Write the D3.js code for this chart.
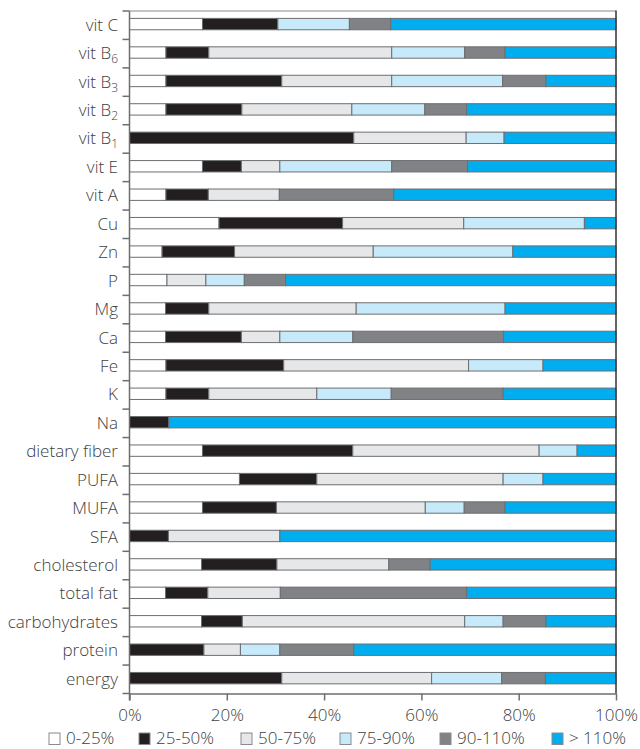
<!DOCTYPE html>
<html><head><meta charset="utf-8">
<script src="https://cdn.jsdelivr.net/npm/d3@7"></script>
<style>
html,body{margin:0;padding:0;background:#fff;}
svg{display:block;font-family:"Open Sans",sans-serif;font-weight:300;}
</style></head>
<body><svg id="chart" width="640" height="749"></svg>
<script>
const categories = ["vit C","vit B_6","vit B_3","vit B_2","vit B_1","vit E","vit A","Cu","Zn","P","Mg","Ca","Fe","K","Na","dietary fiber","PUFA","MUFA","SFA","cholesterol","total fat","carbohydrates","protein","energy"];
const seriesNames = ["0-25%","25-50%","50-75%","75-90%","90-110%","> 110%"];
const s0_25   = [15.0, 7.5, 7.5, 7.5, 0,   15.0, 7.5, 18.4, 6.7, 7.7, 7.4, 7.4, 7.5, 7.5, 0,   15.0, 22.6, 15.0, 0,   14.8, 7.4, 14.8, 0,    0];
const s25_50  = [15.5, 8.8, 23.8,15.6, 46.1, 8.0, 8.7, 25.4, 14.9,0,   8.9, 15.6,24.2, 8.8, 8.1, 30.9, 15.9, 15.2, 8.0, 15.5, 8.7, 8.4,  15.3, 31.3];
const s50_75  = [0,   37.6, 22.6,22.6, 23.1, 7.9, 14.6,24.9, 28.5,8.0, 30.3,7.9, 38.0,22.2, 0,   38.3, 38.3, 30.6, 22.9,23.0, 14.9,45.7, 7.5,  30.8];
const s75_90  = [14.7,15.0, 22.8,15.0, 7.8,  23.0,0,   24.8, 28.7,7.9, 30.6,15.0,15.3,15.3, 0,   7.8,  8.2,  8.0,  0,   0,    0,   7.9,  8.1,  14.4];
const s90_110 = [8.5, 8.3,  8.9, 8.6,  0,    15.6,23.5,0,    0,   8.5, 0,   31.0,0,   23.0, 0,   0,    0,    8.4,  0,   8.5,  38.3,8.8,  15.2, 9.0];
const s110    = [46.3,22.8, 14.4,30.7, 23.0, 30.5,45.7,6.5,  21.2,67.9,22.8,23.1,15.0,23.2, 91.9,8.0,  15.0, 22.8, 69.1,38.2, 30.7,14.4, 53.9, 14.5];
const tickValues = [0,20,40,60,80,100];
const colors = ["#ffffff","#231f20","#e6e7e8","#c7eafb","#808285","#00aeef"];

const allSeries = [s0_25,s25_50,s50_75,s75_90,s90_110,s110];
const rows = categories.map((c,i)=>{const o={cat:c}; seriesNames.forEach((s,j)=>o[s]=allSeries[j][i]); return o;});
const stacked = d3.stack().keys(seriesNames)(rows);

const svg = d3.select("#chart");
const pLeft = 129.5, pRight = 616, pTop = 11, pBottom = 693.5;
const x = d3.scaleLinear().domain([0,100]).range([pLeft,pRight]);
const y = d3.scaleBand().domain(categories).range([pTop,pBottom]).padding(0);
const bw = y.bandwidth();
const textCol = "#404040", axisCol = "#6d6e71";
const fs = 17;

// top line
svg.append("line").attr("x1",pLeft).attr("x2",pRight).attr("y1",pTop).attr("y2",pTop).attr("stroke","#8a8a8a").attr("stroke-width",1.2);

// bars
stacked.forEach((layer,j)=>{
  svg.append("g").selectAll("rect").data(layer.filter(d=>d[1]-d[0]>0.01)).join("rect")
    .attr("x",d=>x(d[0])).attr("width",d=>x(d[1])-x(d[0]))
    .attr("y",d=>y(d.data.cat)+bw*0.26).attr("height",bw*0.4)
    .attr("fill",colors[j]).attr("stroke","#6d6e71").attr("stroke-width",1);
});

// right border
svg.append("line").attr("x1",pRight).attr("x2",pRight).attr("y1",pTop-0.5).attr("y2",pBottom).attr("stroke","#333").attr("stroke-width",1.5);

// left axis
svg.append("line").attr("x1",pLeft).attr("x2",pLeft).attr("y1",pTop).attr("y2",pBottom+7).attr("stroke",axisCol).attr("stroke-width",1.5);
const bounds = categories.map(c=>y(c)).concat([pBottom]);
svg.append("g").selectAll("line").data(bounds).join("line")
  .attr("x1",pLeft-7).attr("x2",pLeft).attr("y1",d=>d).attr("y2",d=>d)
  .attr("stroke",axisCol).attr("stroke-width",1.5);

// category labels
const lab = svg.append("g").selectAll("text").data(categories).join("text")
  .attr("x",118).attr("y",c=>y(c)+bw*0.5+5.5)
  .attr("text-anchor","end").attr("font-size",fs).attr("fill",textCol);
lab.each(function(c){
  const parts = c.split("_");
  const t = d3.select(this);
  t.append("tspan").text(parts[0]);
  if(parts[1]){ t.append("tspan").attr("font-size",12).attr("dy",4).text(parts[1]); }
});

// x axis
const xa = svg.append("g").attr("transform",`translate(0,${pBottom})`)
  .call(d3.axisBottom(x).tickValues(tickValues).tickFormat(d=>d+"%").tickSize(7).tickSizeOuter(0).tickPadding(8));
xa.select(".domain").attr("stroke",axisCol).attr("stroke-width",1.5);
xa.selectAll(".tick line").attr("stroke",axisCol).attr("stroke-width",1.5);
xa.selectAll(".tick text").attr("font-size",fs).attr("fill",textCol).attr("font-family","Open Sans").attr("font-weight",300);

// legend
const legX = [49,139,241,340,440,552];
const leg = svg.append("g").selectAll("g").data(seriesNames).join("g")
  .attr("transform",(d,i)=>`translate(${legX[i]},733)`);
leg.append("rect").attr("width",11).attr("height",11.5).attr("fill",(d,i)=>colors[i]).attr("stroke","#8a8a8a").attr("stroke-width",1);
leg.append("text").attr("x",17).attr("y",11.3).attr("font-size",fs).attr("fill",textCol).text(d=>d);
</script>
</body></html>
